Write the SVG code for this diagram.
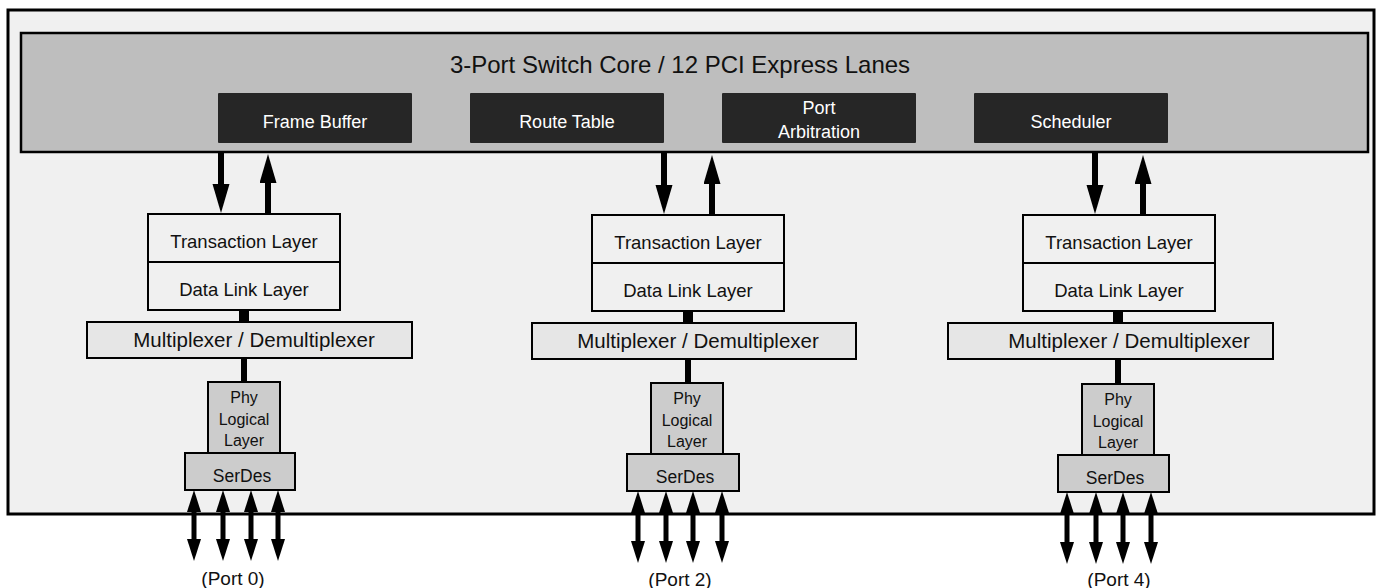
<svg xmlns="http://www.w3.org/2000/svg" width="1377" height="588" viewBox="0 0 1377 588">
<style>
text{font-family:"Liberation Sans",Arial,sans-serif;fill:#111;text-anchor:middle}
.frame{fill:#f0f0f0;stroke:#000;stroke-width:3}
.core{fill:#bebebe;stroke:#000;stroke-width:2.5}
.dark{fill:#262626}
.dt{fill:#fff;font-size:18px}
.tl{fill:#f0f0f0;stroke:#000;stroke-width:2}
.mux{fill:#e6e6e6;stroke:#000;stroke-width:2}
.phy{fill:#cccccc;stroke:#000;stroke-width:2}
.t18{font-size:18.5px}
.t20{font-size:20.5px}
.t16{font-size:16px}
.t17{font-size:17.5px}
.pl{font-size:19px}
.big{stroke:#000;stroke-width:6;fill:none}
.bi{stroke:#000;stroke-width:5;fill:none}
.bar{fill:#000}
</style>
<defs>
<marker id="ah" markerUnits="userSpaceOnUse" markerWidth="30" markerHeight="18" refX="0" refY="8.5" orient="auto">
<path d="M0,0 L29,8.5 L0,17 z" fill="#000"/>
</marker>
<marker id="as" markerUnits="userSpaceOnUse" markerWidth="23" markerHeight="15" refX="0" refY="7" orient="auto-start-reverse">
<path d="M0,0 L22,7 L0,14 z" fill="#000"/>
</marker>
</defs>
<rect class="frame" x="8" y="10" width="1366" height="504"/>
<g id="core">
<rect class="core" x="21" y="33" width="1347" height="119"/>
<text x="680" y="73" style="font-size:24px">3-Port Switch Core / 12 PCI Express Lanes</text>
</g>
<g id="frame-buffer"><rect class="dark" x="218" y="93" width="194" height="50" rx="1"/><text class="dt" x="315" y="128">Frame Buffer</text></g>
<g id="route-table"><rect class="dark" x="470" y="93" width="194" height="50" rx="1"/><text class="dt" x="567" y="128">Route Table</text></g>
<g id="port-arbitration"><rect class="dark" x="722" y="93" width="194" height="50" rx="1"/><text class="dt" x="819" y="114">Port</text><text class="dt" x="819" y="138">Arbitration</text></g>
<g id="scheduler"><rect class="dark" x="974" y="93" width="194" height="50" rx="1"/><text class="dt" x="1071" y="128">Scheduler</text></g>

<g id="port0">
<rect class="tl" x="148" y="214" width="192" height="96"/><line x1="148" y1="262" x2="340" y2="262" stroke="#000" stroke-width="2"/>
<text class="t18" x="244" y="248">Transaction Layer</text><text class="t18" x="244" y="296">Data Link Layer</text>
<rect class="mux" x="87" y="322" width="325" height="36"/><text class="t20" x="254" y="347">Multiplexer / Demultiplexer</text>
<rect class="phy" x="208" y="382" width="72" height="71"/>
<text class="t16" x="244" y="403">Phy</text><text class="t16" x="244" y="425">Logical</text><text class="t16" x="244" y="446">Layer</text>
<rect class="phy" x="185" y="453" width="110" height="37"/><text class="t17" x="242" y="482">SerDes</text>
<text class="pl" x="233" y="585">(Port 0)</text>
</g>
<g id="port2">
<rect class="tl" x="592" y="215" width="192" height="96"/><line x1="592" y1="263" x2="784" y2="263" stroke="#000" stroke-width="2"/>
<text class="t18" x="688" y="249">Transaction Layer</text><text class="t18" x="688" y="297">Data Link Layer</text>
<rect class="mux" x="532" y="323" width="324" height="36"/><text class="t20" x="698" y="348">Multiplexer / Demultiplexer</text>
<rect class="phy" x="651" y="383" width="72" height="71"/>
<text class="t16" x="687" y="404">Phy</text><text class="t16" x="687" y="426">Logical</text><text class="t16" x="687" y="447">Layer</text>
<rect class="phy" x="627" y="454" width="112" height="37"/><text class="t17" x="685" y="483">SerDes</text>
<text class="pl" x="680" y="586">(Port 2)</text>
</g>
<g id="port4">
<rect class="tl" x="1023" y="215" width="192" height="96"/><line x1="1023" y1="263" x2="1215" y2="263" stroke="#000" stroke-width="2"/>
<text class="t18" x="1119" y="249">Transaction Layer</text><text class="t18" x="1119" y="297">Data Link Layer</text>
<rect class="mux" x="948" y="323" width="325" height="36"/><text class="t20" x="1129" y="348">Multiplexer / Demultiplexer</text>
<rect class="phy" x="1082" y="384" width="72" height="71"/>
<text class="t16" x="1118" y="405">Phy</text><text class="t16" x="1118" y="427">Logical</text><text class="t16" x="1118" y="448">Layer</text>
<rect class="phy" x="1058" y="455" width="111" height="37"/><text class="t17" x="1115" y="484">SerDes</text>
<text class="pl" x="1119" y="586">(Port 4)</text>
</g>

<g id="connectors">
<line class="big" x1="221" y1="152" x2="221" y2="184" marker-end="url(#ah)"/>
<line class="big" x1="268" y1="214" x2="268" y2="183" marker-end="url(#ah)"/>
<line class="big" x1="664" y1="152" x2="664" y2="185" marker-end="url(#ah)"/>
<line class="big" x1="712" y1="215" x2="712" y2="184" marker-end="url(#ah)"/>
<line class="big" x1="1095" y1="152" x2="1095" y2="185" marker-end="url(#ah)"/>
<line class="big" x1="1143" y1="215" x2="1143" y2="184" marker-end="url(#ah)"/>
<rect class="bar" x="239" y="310" width="10" height="12"/>
<rect class="bar" x="241" y="358" width="6" height="24"/>
<rect class="bar" x="683" y="311" width="10" height="12"/>
<rect class="bar" x="685" y="359" width="6" height="24"/>
<rect class="bar" x="1113" y="311" width="10" height="12"/>
<rect class="bar" x="1115" y="359" width="6" height="25"/>
<line class="bi" x1="194" y1="512" x2="194" y2="539" marker-start="url(#as)" marker-end="url(#as)"/>
<line class="bi" x1="223" y1="512" x2="223" y2="539" marker-start="url(#as)" marker-end="url(#as)"/>
<line class="bi" x1="251" y1="512" x2="251" y2="539" marker-start="url(#as)" marker-end="url(#as)"/>
<line class="bi" x1="278" y1="512" x2="278" y2="539" marker-start="url(#as)" marker-end="url(#as)"/>
<line class="bi" x1="638" y1="513" x2="638" y2="541" marker-start="url(#as)" marker-end="url(#as)"/>
<line class="bi" x1="666" y1="513" x2="666" y2="541" marker-start="url(#as)" marker-end="url(#as)"/>
<line class="bi" x1="693" y1="513" x2="693" y2="541" marker-start="url(#as)" marker-end="url(#as)"/>
<line class="bi" x1="722" y1="513" x2="722" y2="541" marker-start="url(#as)" marker-end="url(#as)"/>
<line class="bi" x1="1067" y1="514" x2="1067" y2="542" marker-start="url(#as)" marker-end="url(#as)"/>
<line class="bi" x1="1096" y1="514" x2="1096" y2="542" marker-start="url(#as)" marker-end="url(#as)"/>
<line class="bi" x1="1123" y1="514" x2="1123" y2="542" marker-start="url(#as)" marker-end="url(#as)"/>
<line class="bi" x1="1151" y1="514" x2="1151" y2="542" marker-start="url(#as)" marker-end="url(#as)"/>
</g>
</svg>
